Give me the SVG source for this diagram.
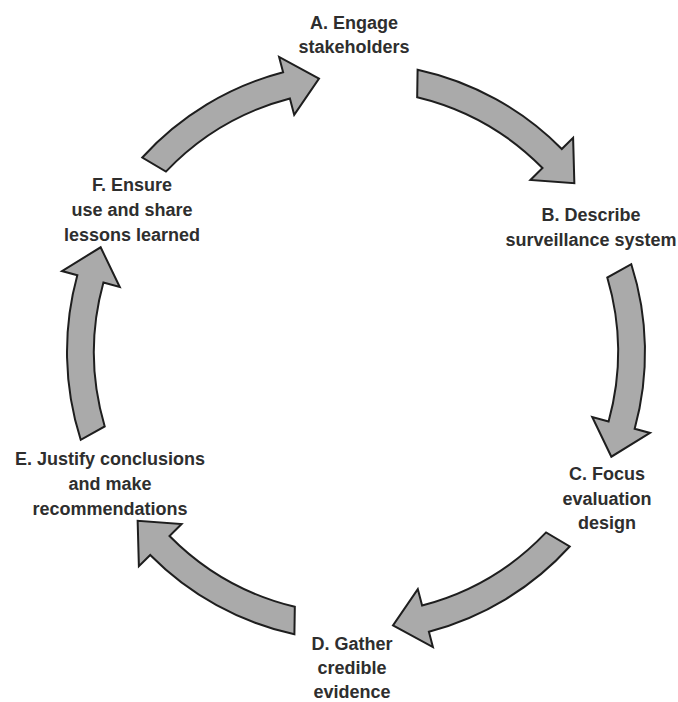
<svg xmlns="http://www.w3.org/2000/svg" xmlns:xlink="http://www.w3.org/1999/xlink" width="678" height="702" viewBox="0 0 678 702">
<style>
.lbl{font-family:"Liberation Sans",Arial,sans-serif;font-weight:bold;font-size:18px;fill:#2e2e2e;text-anchor:middle}
.arr{fill:#aaaaaa;stroke:#1e1e1e;stroke-width:2;stroke-linejoin:miter}
</style>
<defs>
<path id="arw" class="arr" d="M -213.7 -194.5 A 289 289 0 0 1 -72.9 -279.7 L -76.9 -295.1 L -37 -273.5 L -61.8 -237.1 L -66.1 -253.5 A 262 262 0 0 0 -190.1 -180.4 Z"/>
</defs>
<rect width="678" height="702" fill="#ffffff"/>
<g id="connectors" transform="translate(356 352)">
<use href="#arw" xlink:href="#arw"/>
<use href="#arw" xlink:href="#arw" transform="rotate(60)"/>
<use href="#arw" xlink:href="#arw" transform="rotate(120)"/>
<use href="#arw" xlink:href="#arw" transform="rotate(180)"/>
<use href="#arw" xlink:href="#arw" transform="rotate(240)"/>
<use href="#arw" xlink:href="#arw" transform="rotate(300)"/>
</g>
<g id="nodeA"><text class="lbl" x="354" y="29">A. Engage</text><text class="lbl" x="354" y="53">stakeholders</text></g>
<g id="nodeB"><text class="lbl" x="591" y="221">B. Describe</text><text class="lbl" x="591" y="246">surveillance system</text></g>
<g id="nodeC"><text class="lbl" x="607" y="480">C. Focus</text><text class="lbl" x="607" y="505">evaluation</text><text class="lbl" x="607" y="529">design</text></g>
<g id="nodeD"><text class="lbl" x="352" y="650">D. Gather</text><text class="lbl" x="352" y="674">credible</text><text class="lbl" x="352" y="698">evidence</text></g>
<g id="nodeE"><text class="lbl" x="110" y="465">E. Justify conclusions</text><text class="lbl" x="110" y="490">and make</text><text class="lbl" x="110" y="515">recommendations</text></g>
<g id="nodeF"><text class="lbl" x="132" y="191">F. Ensure</text><text class="lbl" x="132" y="216">use and share</text><text class="lbl" x="132" y="241">lessons learned</text></g>
</svg>
